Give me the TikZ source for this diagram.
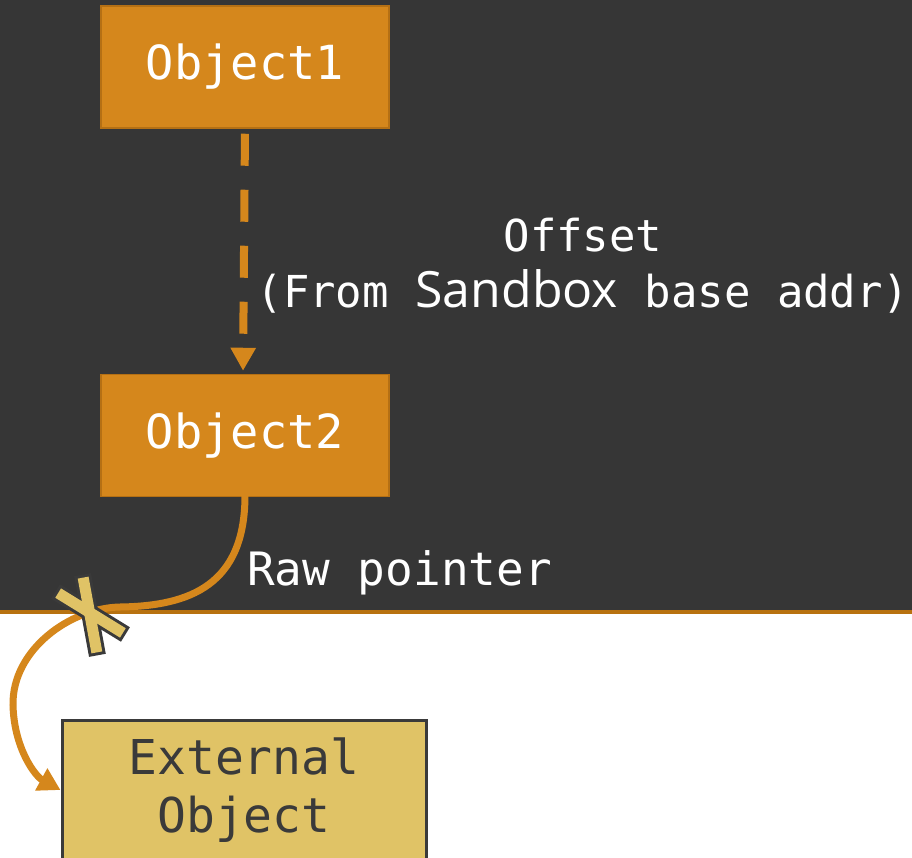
\documentclass[tikz,border=0pt]{standalone}
\usepackage{fontspec}
\setmonofont{DejaVu Sans Mono}
\newfontfamily\sbxfont{Open Sans}
\usetikzlibrary{arrows.meta}
\definecolor{bgdark}{RGB}{54,54,54}
\definecolor{boxorange}{RGB}{213,135,28}
\definecolor{edgeorange}{RGB}{181,112,20}
\definecolor{lineorange}{RGB}{184,114,16}
\definecolor{extfill}{RGB}{224,195,102}
\definecolor{extedge}{RGB}{58,58,58}
\tikzset{
  txt/.style={font=\ttfamily\fontsize{47}{57}\selectfont},
  objbox/.style={txt, fill=boxorange, draw=edgeorange, line width=1.5pt, text=white,
    minimum width=288pt, minimum height=122pt, inner sep=0pt},
  extbox/.style={font=\ttfamily\fontsize{48}{58}\selectfont, fill=extfill, draw=extedge, line width=3pt, text=extedge,
    minimum width=364pt, minimum height=140pt, inner sep=0pt, align=center},
  lbl/.style={txt, text=white, inner sep=0pt},
  xbarline/.style={draw=extedge, line width=6pt, minimum width=76pt, minimum height=11pt, inner sep=0pt},
  xbarfill/.style={fill=extfill, minimum width=76pt, minimum height=11pt, inner sep=0pt},
}
\begin{document}
\begin{tikzpicture}[x=1pt,y=-1pt]
\useasboundingbox (0,0) rectangle (912,858);
\fill[white] (0,0) rectangle (912,858);
\fill[bgdark] (0,0) rectangle (912,610);
\fill[lineorange] (0,610) rectangle (912,614);

\node[objbox] (o1) at (245,67) {Object1};
\node[objbox] (o2) at (245,435.5) {Object2};
\node[extbox] (ext) at (244,790) {External\\Object};

\draw[boxorange, line width=8pt, dash pattern=on 32pt off 24pt,
  -{Triangle[width=24pt,length=23pt]}, shorten <=5pt, shorten >=3pt]
  (o1.south) -- ([xshift=-2pt]o2.north);

\node[lbl, align=center, font=\ttfamily\fontsize{44}{56}\selectfont] (off) at (583,266)
  {Offset\\(From {\sbxfont\fontsize{50}{56}\selectfont Sandbox} base addr)};
\node[lbl, anchor=base west, font=\ttfamily\fontsize{46}{56}\selectfont] (raw) at (247,585) {Raw pointer};

\draw[boxorange, line width=7pt, -{Triangle[width=24pt,length=22pt]}]
  ([yshift=2pt]o2.south) .. controls (245,585) and (190,606) .. (120,607)
  .. controls (70,608) and (12,650) .. (13,705)
  .. controls (14,748) and (35,776) .. (ext.west);

\node[xbarline, rotate=-79.6] (xa1) at (90,615) {};
\node[xbarline, rotate=-31.6] (xb1) at (90.5,613) {};
\node[xbarfill, rotate=-79.6] (xa2) at (90,615) {};
\node[xbarfill, rotate=-31.6] (xb2) at (90.5,613) {};
\end{tikzpicture}
\end{document}
